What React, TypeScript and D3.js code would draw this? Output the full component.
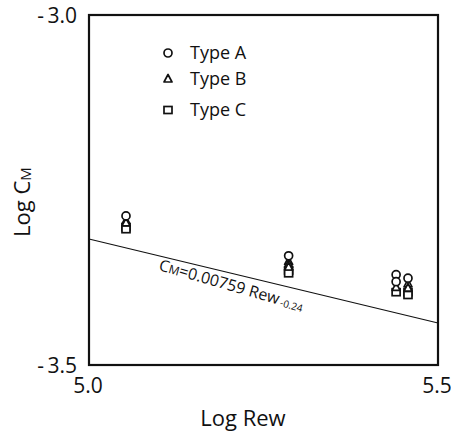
import React from "react";
import * as d3 from "d3";

// ---- data ----
const typeA: [number, number][] = [
  [5.053, -3.287], [5.286, -3.344], [5.44, -3.371], [5.44, -3.381], [5.457, -3.376],
];
const typeB: [number, number][] = [
  [5.053, -3.294], [5.053, -3.297], [5.286, -3.352], [5.286, -3.356], [5.286, -3.36],
  [5.44, -3.389], [5.457, -3.384], [5.457, -3.39],
];
const typeC: [number, number][] = [
  [5.053, -3.303], [5.053, -3.306], [5.286, -3.365], [5.286, -3.369],
  [5.44, -3.396], [5.457, -3.396], [5.457, -3.4],
];
// fit: C_M = 0.00759 Rew^-0.24  -> end points of the drawn line
const fitLine: [number, number][] = [
  [5.0, -3.32],
  [5.5, -3.44],
];
const xTicks = [5.0, 5.5];
const yTicks = [-3.0, -3.5];
const legendItems = ["Type A", "Type B", "Type C"];

const W = 451, H = 433;
const m = { left: 89, right: 13, top: 15, bottom: 68 };
const font = "'Open Sans', 'DejaVu Sans', sans-serif";

function Marker({ kind, x, y }: { kind: string; x: number; y: number }) {
  const s = 4;
  if (kind === "A") return <circle cx={x} cy={y} r={s} fill="white" stroke="#111" strokeWidth={1.7} />;
  if (kind === "B") {
    const pts = `${x},${y - s - 0.5} ${x - s},${y + s - 1} ${x + s},${y + s - 1}`;
    return <polygon points={pts} fill="white" stroke="#111" strokeWidth={1.7} strokeLinejoin="round" />;
  }
  return <rect x={x - s} y={y - s + 0.5} width={2 * s} height={2 * s - 1} fill="white" stroke="#111" strokeWidth={1.7} />;
}

export default function App() {
  const x = d3.scaleLinear().domain([5.0, 5.5]).range([m.left, W - m.right]);
  const y = d3.scaleLinear().domain([-3.5, -3.0]).range([H - m.bottom, m.top]);
  const line = d3.line<[number, number]>().x(d => x(d[0])).y(d => y(d[1]));

  return (
    <svg width={W} height={H} style={{ position: "absolute", left: 0, top: 0, background: "white" }}
      fontFamily={font}>
      {/* fit line */}
      <path d={line(fitLine) || ""} fill="none" stroke="#111" strokeWidth={1.2} />

      {/* data */}
      {typeC.map((d, i) => <Marker key={"c" + i} kind="C" x={x(d[0])} y={y(d[1])} />)}
      {typeB.map((d, i) => <Marker key={"b" + i} kind="B" x={x(d[0])} y={y(d[1])} />)}
      {typeA.map((d, i) => <Marker key={"a" + i} kind="A" x={x(d[0])} y={y(d[1])} />)}

      {/* frame */}
      <rect x={m.left} y={m.top} width={W - m.left - m.right} height={H - m.top - m.bottom}
        fill="none" stroke="#111" strokeWidth={2.2} />

      {/* y ticks */}
      {yTicks.map(t => (
        <text key={t} x={77} y={y(t) + 8} textAnchor="end" fontSize={21} fill="#111">
          {"-\u2009" + t.toFixed(1).replace("-", "")}
        </text>
      ))}
      {/* x ticks */}
      {xTicks.map(t => (
        <text key={t} x={x(t) - 1} y={393} textAnchor="middle" fontSize={21} fill="#111">
          {t.toFixed(1)}
        </text>
      ))}

      {/* axis titles */}
      <text x={243} y={426} textAnchor="middle" fontSize={22} fill="#111">Log Rew</text>
      <text transform="translate(30,202) rotate(-90)" textAnchor="middle" fontSize={22} fill="#111">
        Log C<tspan fontSize={15} dy={1}>M</tspan>
      </text>

      {/* legend */}
      {legendItems.map((l, i) => {
        const ly = [53, 79, 110][i];
        return (
          <g key={l}>
            <Marker kind={"ABC"[i]} x={168} y={ly} />
            <text x={190} y={ly + 6} fontSize={18} fill="#111">{l}</text>
          </g>
        );
      })}

      {/* equation along the fit */}
      <text transform="translate(158,270) rotate(16)" fontSize={16} fill="#111">
        C<tspan fontSize={12}>M</tspan>=0.00759 Rew<tspan fontSize={10} dx={2} dy={1}>-0.24</tspan>
      </text>
    </svg>
  );
}
